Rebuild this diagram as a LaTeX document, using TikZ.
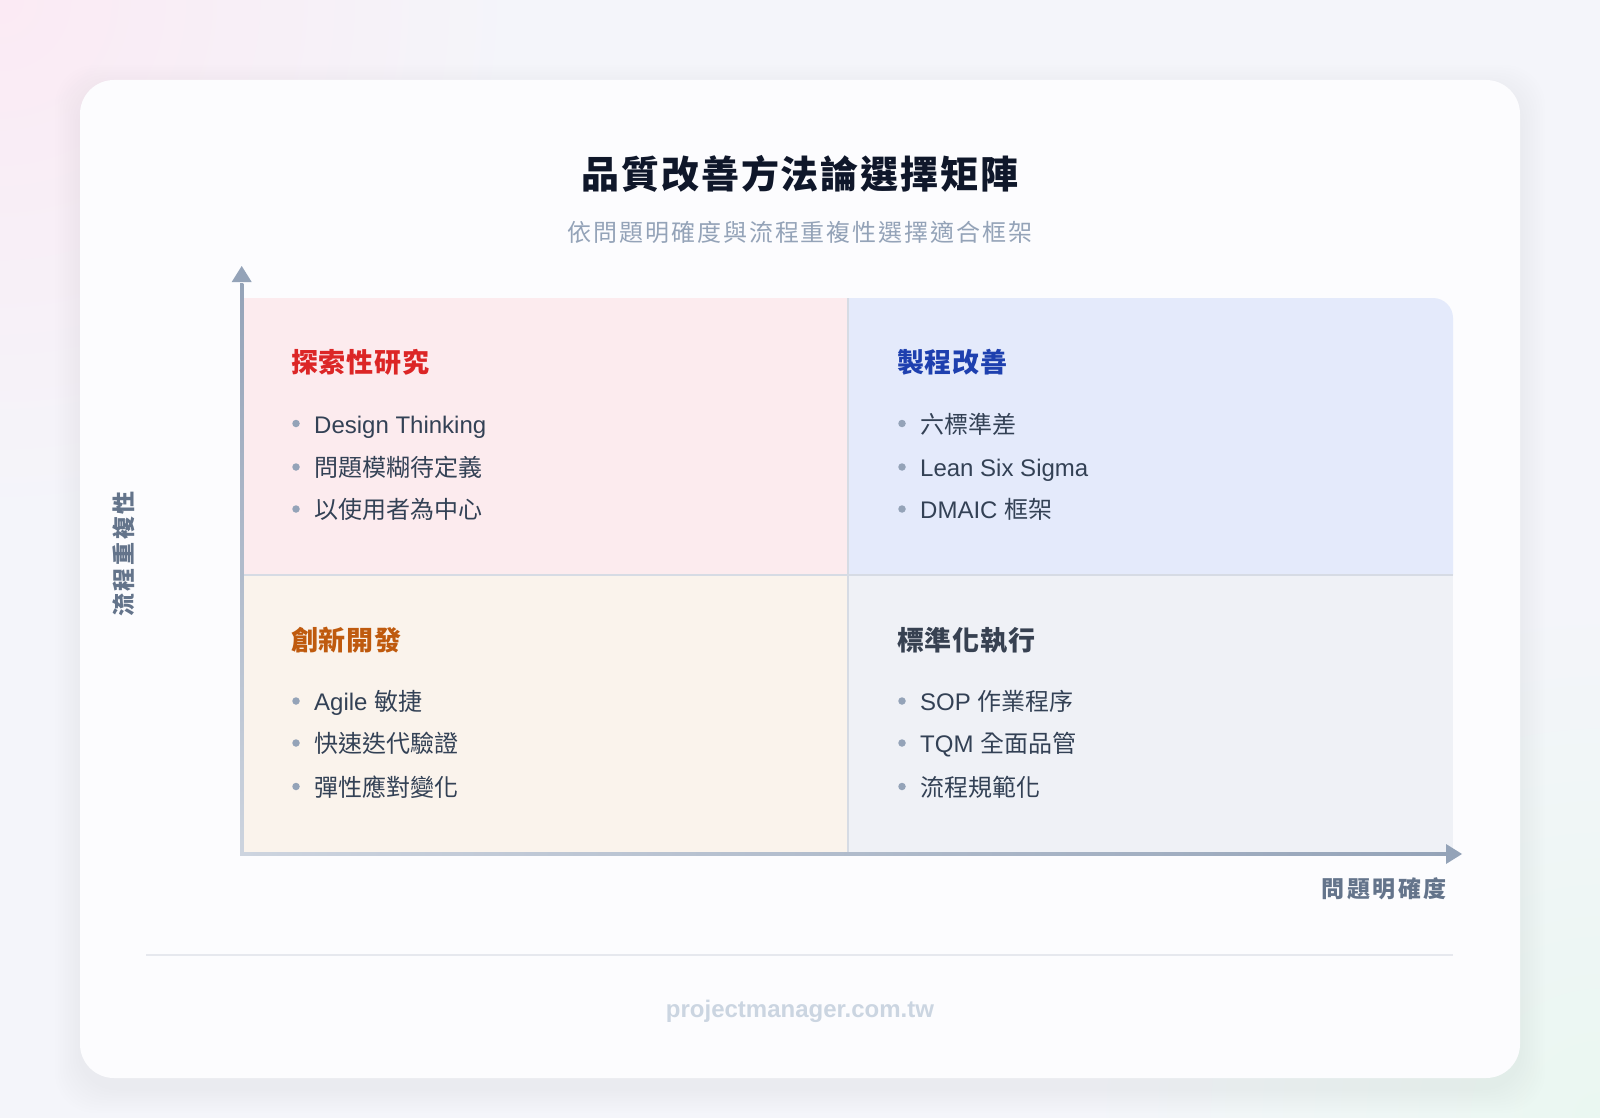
\documentclass[tikz,border=0pt]{standalone}
\usepackage{fontspec}
\setmainfont{Noto Sans CJK TC}
\newfontfamily\lat{Liberation Sans}
\newfontfamily\titlefont[LetterSpace=5]{Noto Sans CJK TC}
\newfontfamily\subfont[LetterSpace=8]{Noto Sans CJK TC}
\newfontfamily\axfont[LetterSpace=11]{Noto Sans CJK TC}
\newfontfamily\qtfont[LetterSpace=3]{Noto Sans CJK TC}
\usetikzlibrary{calc}
\definecolor{bg}{HTML}{F4F5FA}
\definecolor{pinkglow}{HTML}{FBEAF4}
\definecolor{mintglow}{HTML}{EAF7F1}
\definecolor{cardc}{HTML}{FCFCFE}
\definecolor{qTL}{HTML}{FCEBEE}
\definecolor{qTR}{HTML}{E4EAFB}
\definecolor{qBL}{HTML}{FAF3EC}
\definecolor{qBR}{HTML}{EFF1F6}
\definecolor{divc}{HTML}{D6DBE4}
\definecolor{axisc}{HTML}{94A3B8}
\definecolor{axislight}{HTML}{CDD4DF}
\definecolor{titlec}{HTML}{0F172A}
\definecolor{subc}{HTML}{94A3B8}
\definecolor{itemc}{HTML}{334155}
\definecolor{axlab}{HTML}{64748B}
\definecolor{cRed}{HTML}{DC2626}
\definecolor{cBlue}{HTML}{1E40AF}
\definecolor{cOrange}{HTML}{BF5A0E}
\definecolor{cGray}{HTML}{374151}
\definecolor{footc}{HTML}{CBD5E1}
\definecolor{sepc}{HTML}{E6E8EE}
\begin{document}
\begin{tikzpicture}[x=1pt,y=-1pt,
  itemtext/.style={anchor=base west, inner sep=0pt, text=itemc, font=\fontsize{24}{28}\selectfont},
  qtitle/.style={anchor=base west, inner sep=0pt, font=\qtfont\fontsize{27}{32}\selectfont\bfseries},
  bdot/.style={circle, fill=axisc, inner sep=0pt, minimum size=7.5pt},
  axlabel/.style={inner sep=0pt, text=axlab, font=\axfont\fontsize{23}{27}\selectfont\bfseries},
]
\useasboundingbox (0,0) rectangle (1600,1118);
\clip (0,0) rectangle (1600,1118);
% background
\fill[bg] (0,0) rectangle (1600,1118);
\shade[inner color=pinkglow, outer color=bg] (0,0) circle (520);
\shade[inner color=mintglow, outer color=bg] (1600,1118) circle (520);
% card shadow
\foreach \i in {1,...,10}{
  \fill[black, opacity=0.005, rounded corners=40] (80-\i*2.5, 80-\i*2.5+10) rectangle (1520+\i*2.5, 1078+\i*2.5+10);
}
\fill[cardc, rounded corners=34] (80,80) rectangle (1520,1078);
% titles
\node[anchor=base, inner sep=0pt, text=titlec, font=\titlefont\fontsize{38}{44}\selectfont\bfseries] (title) at (800,189) {品質改善方法論選擇矩陣};
\node[anchor=base, inner sep=0pt, text=subc, font=\subfont\fontsize{24}{28}\selectfont] (subtitle) at (800,241.5) {依問題明確度與流程重複性選擇適合框架};
% grid coordinates
\coordinate (gTL) at (243,298);
\coordinate (gTM) at (848,298);
\coordinate (gTR) at (1453,298);
\coordinate (gML) at (243,575);
\coordinate (gMM) at (848,575);
\coordinate (gMR) at (1453,575);
\coordinate (gBL) at (243,854);
\coordinate (gBM) at (848,854);
\coordinate (gBR) at (1453,854);
% quadrants
\fill[qTL] (gTL) rectangle (gMM);
\fill[qTR] (gTM) -- (1433,298) .. controls (1444,298) and (1453,307) .. (1453,318) -- (gMR) -- (gMM) -- cycle;
\fill[qBL] (gML) rectangle (gBM);
\fill[qBR] (gMM) rectangle (gBR);
% dividers
\draw[divc, line width=2.5pt] (gTM) -- (gBM);
\draw[divc, line width=2pt] (gML) -- (gMR);
% axes
\coordinate (origin) at (241.7,854);
\coordinate (ytip) at (241.7,266);
\coordinate (ybase) at (241.7,282);
\coordinate (xtip) at (1462,854);
\coordinate (xbase) at (1446,854);
\shade[bottom color=axislight, top color=axisc] ($(origin)+(-1.6,1.6)$) rectangle ($(ybase)+(1.6,1)$);
\fill[axisc] (ytip) -- ($(ybase)+(-10,0)$) -- ($(ybase)+(10,0)$) -- cycle;
\shade[left color=axislight, right color=axisc] ($(origin)+(-1.6,-1.6)$) rectangle ($(xbase)+(1,1.6)$);
\fill[axisc] (xtip) -- ($(xbase)+(0,-10)$) -- ($(xbase)+(0,10)$) -- cycle;
% axis labels
\node[axlabel, anchor=base east] (xlabel) at (1447,897.5) {問題明確度};
\node[axlabel, rotate=90] (ylabel) at (123.5,554) {流程重複性};
% quadrant TL
\node[qtitle, text=cRed] (q1title) at (291,372.5) {探索性研究};
\node[bdot] (q1d1) at (296,423.5) {};
\node[itemtext] (q1i1) at (314,433) {\lat Design Thinking};
\node[bdot] (q1d2) at (296,467) {};
\node[itemtext] (q1i2) at (314,476.5) {問題模糊待定義};
\node[bdot] (q1d3) at (296,509) {};
\node[itemtext] (q1i3) at (314,518.5) {以使用者為中心};
% quadrant TR
\node[qtitle, text=cBlue] (q2title) at (897,372.5) {製程改善};
\node[bdot] (q2d1) at (902,423.5) {};
\node[itemtext] (q2i1) at (920,433) {六標準差};
\node[bdot] (q2d2) at (902,467) {};
\node[itemtext] (q2i2) at (920,476.5) {\lat Lean Six Sigma};
\node[bdot] (q2d3) at (902,509) {};
\node[itemtext] (q2i3) at (920,518.5) {{\lat DMAIC }框架};
% quadrant BL
\node[qtitle, text=cOrange] (q3title) at (291,650.5) {創新開發};
\node[bdot] (q3d1) at (296,701) {};
\node[itemtext] (q3i1) at (314,710.5) {{\lat Agile }敏捷};
\node[bdot] (q3d2) at (296,743) {};
\node[itemtext] (q3i2) at (314,752.5) {快速迭代驗證};
\node[bdot] (q3d3) at (296,786.5) {};
\node[itemtext] (q3i3) at (314,796) {彈性應對變化};
% quadrant BR
\node[qtitle, text=cGray] (q4title) at (897,650.5) {標準化執行};
\node[bdot] (q4d1) at (902,701) {};
\node[itemtext] (q4i1) at (920,710.5) {{\lat SOP }作業程序};
\node[bdot] (q4d2) at (902,743) {};
\node[itemtext] (q4i2) at (920,752.5) {{\lat TQM }全面品管};
\node[bdot] (q4d3) at (902,786.5) {};
\node[itemtext] (q4i3) at (920,796) {流程規範化};
% footer
\coordinate (sepL) at (146,955);
\coordinate (sepR) at (1453,955);
\draw[sepc, line width=1.5pt] (sepL) -- (sepR);
\node[anchor=base, inner sep=0pt, text=footc, font=\lat\fontsize{24}{28}\selectfont\bfseries] (footer) at (800,1017.5) {projectmanager.com.tw};
\end{tikzpicture}
\end{document}
